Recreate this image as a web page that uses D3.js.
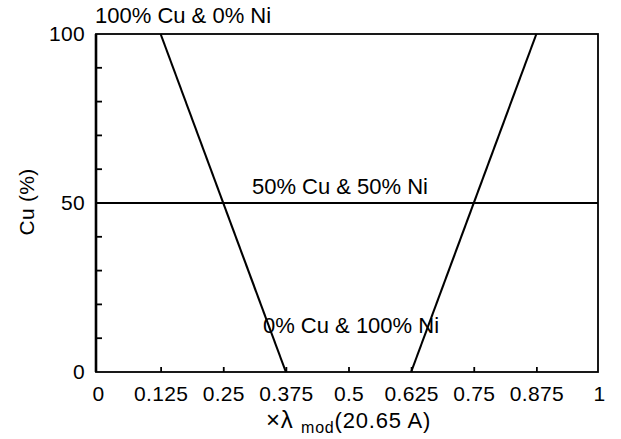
<!DOCTYPE html>
<html>
<head>
<meta charset="utf-8">
<script src="https://cdn.jsdelivr.net/npm/d3@7"></script>
<style>
	body { margin: 0; background: #fff; }
	text { font-family: 'Liberation Sans', Arial, Helvetica, sans-serif; fill: #000; }
</style>
</head>
<body>
<div id="chart"></div>
<script>
// ticks
const xTicks = [0, 0.125, 0.25, 0.375, 0.5, 0.625, 0.75, 0.875, 1]
const yTicks = [0, 50, 100]
const yMinorTicks = [10, 20, 30, 40, 60, 70, 80, 90]

// composition lines (x = fraction of lambda_mod, cu = Cu %)
const pureCuEdge = [{ x: 0.125, cu: 100 }, { x: 0.375, cu: 0 }]
const pureNiEdge = [{ x: 0.625, cu: 0 }, { x: 0.875, cu: 100 }]
const halfLine = [{ x: 0, cu: 50 }, { x: 1, cu: 50 }]

const notes = ['100% Cu & 0% Ni', '50% Cu & 50% Ni', '0% Cu & 100% Ni']

const width = 621
const height = 439
const margin = { top: 34, right: 23, bottom: 67, left: 96 }
const chartWidth = width - margin.left - margin.right
const chartHeight = height - margin.top - margin.bottom

const svg = d3.select('#chart')
	.append('svg')
	.attr('width', width)
	.attr('height', height)

const chart = svg.append('g')
	.attr('transform', `translate(${margin.left},${margin.top})`)

const x = d3.scaleLinear().domain([0, 1]).range([2, chartWidth + 1])
const y = d3.scaleLinear().domain([0, 100]).range([chartHeight, 0])

// frame
chart.append('rect')
	.attr('width', chartWidth)
	.attr('height', chartHeight)
	.attr('fill', 'none')
	.attr('stroke', '#000')
	.attr('stroke-width', 1.8)

// x axis, ticks pointing inward
const xAxis = chart.append('g')
	.attr('transform', `translate(0,${chartHeight})`)
	.call(d3.axisBottom(x).tickValues(xTicks).tickSize(-5).tickPadding(14)
		.tickFormat(d => String(d)))
xAxis.select('.domain').remove()
xAxis.selectAll('line').attr('stroke-width', 1.8)
xAxis.selectAll('.tick').filter(d => d === 0 || d === 1).select('line').remove()
xAxis.selectAll('text')
	.attr('font-size', 21)
	.attr('letter-spacing', 0.3)
	.attr('font-family', null)

// y axis
const yAxis = chart.append('g')
	.call(d3.axisLeft(y).tickValues(yTicks).tickSize(0).tickPadding(11))
yAxis.select('.domain').remove()
yAxis.selectAll('text')
	.attr('font-size', 21)
	.attr('letter-spacing', 0.3)
	.attr('font-family', null)

chart.append('g')
	.selectAll('line')
	.data(yMinorTicks)
	.join('line')
	.attr('x1', 0)
	.attr('x2', 6)
	.attr('y1', d => y(d))
	.attr('y2', d => y(d))
	.attr('stroke', '#000')
	.attr('stroke-width', 1.8)

// left spine a bit heavier
chart.append('line')
	.attr('x1', 0).attr('x2', 0)
	.attr('y1', 0).attr('y2', chartHeight)
	.attr('stroke', '#000')
	.attr('stroke-width', 2.6)

const line = d3.line().x(d => x(d.x)).y(d => y(d.cu))

chart.selectAll('.comp-line')
	.data([pureCuEdge, pureNiEdge, halfLine])
	.join('path')
	.attr('class', 'comp-line')
	.attr('d', d => d === halfLine
		? `M0,${y(50)}H${chartWidth}`
		: line(d))
	.attr('fill', 'none')
	.attr('stroke', '#000')
	.attr('stroke-width', 2.1)

// annotations
chart.append('text')
	.attr('x', -1)
	.attr('y', y(100) - 11)
	.attr('font-size', 22)
	.text(notes[0])

chart.append('text')
	.attr('x', x(0.483))
	.attr('y', y(52.8))
	.attr('text-anchor', 'middle')
	.attr('font-size', 22)
	.text(notes[1])

chart.append('text')
	.attr('x', x(0.505))
	.attr('y', y(11.5))
	.attr('text-anchor', 'middle')
	.attr('font-size', 22)
	.text(notes[2])

// axis titles
svg.append('text')
	.attr('transform', `translate(34,${margin.top + y(50) - 1}) rotate(-90)`)
	.attr('text-anchor', 'middle')
	.attr('font-size', 21)
	.attr('letter-spacing', 0.3)
	.text('Cu (%)')

const xTitle = svg.append('text')
	.attr('x', margin.left + x(0.5))
	.attr('y', 428)
	.attr('text-anchor', 'middle')
	.attr('font-size', 22)
	.attr('letter-spacing', 0.8)
xTitle.append('tspan').attr('font-size', 24).text('\u00d7\u03bb ')
xTitle.append('tspan').attr('font-size', 16).attr('dy', 5).text('mod')
xTitle.append('tspan').attr('dy', -5).text('(20.65 A)')
</script>
</body>
</html>
